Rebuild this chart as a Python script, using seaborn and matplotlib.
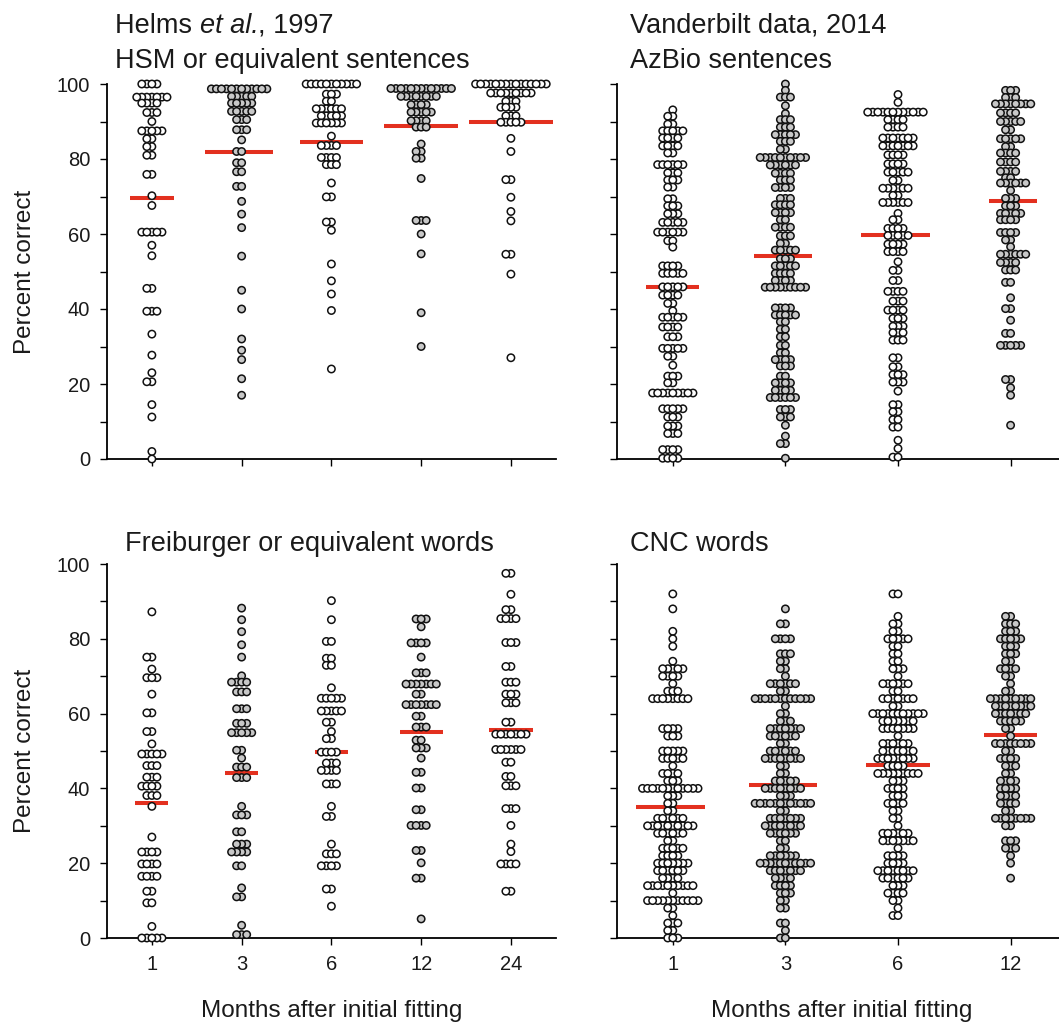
import warnings
import numpy as np
import pandas as pd
import matplotlib
matplotlib.use("Agg")
import matplotlib.pyplot as plt
import seaborn as sns

warnings.filterwarnings("ignore")

# ---------------------------------------------------------------- data
months_left = ["1", "3", "6", "12", "24"]
months_right = ["1", "3", "6", "12"]

# Helms et al., 1997 - HSM or equivalent sentences (score, number of listeners)
hsm_m1_pct = [100, 96.5, 94.9, 92.4, 90, 87.5, 85.4, 83.3, 81, 75.9, 70.2, 67.6, 60.5, 57, 54.2,
              45.5, 39.4, 33.3, 27.7, 23, 20.6, 14.5, 11.2, 2, 0]
hsm_m1_n = [4, 7, 4, 3, 1, 5, 2, 2, 2, 2, 1, 1, 5, 1, 1, 2, 3, 1, 1, 1, 2, 1, 1, 1, 1]
hsm_m3_pct = [98.7, 96.7, 94.9, 92.7, 90.5, 87.8, 85.1, 82, 79, 76.6, 72.7, 68.7, 65.3, 61.7, 54.1,
              45, 40, 32, 29, 26.5, 21.4, 17]
hsm_m3_n = [12, 5, 5, 5, 3, 3, 1, 2, 2, 2, 2, 1, 1, 1, 1, 1, 1, 1, 1, 1, 1, 1]
hsm_m6_pct = [100, 97.3, 95.4, 93.4, 91.5, 89.6, 86.1, 83.6, 80.4, 78.5, 73.6, 69.9, 63.2, 61, 52,
              47.5, 44, 39.6, 24]
hsm_m6_n = [11, 3, 2, 6, 5, 6, 1, 4, 4, 3, 1, 2, 2, 1, 1, 1, 1, 1, 1]
hsm_m12_pct = [98.8, 96.7, 94.5, 92.5, 90.2, 88.5, 84, 82, 80.2, 74.8, 63.6, 60, 54.7, 39, 30]
hsm_m12_n = [13, 8, 4, 5, 4, 3, 1, 2, 2, 1, 3, 1, 1, 1, 1]
hsm_m24_pct = [100, 97.6, 95.4, 93.8, 91.5, 89.8, 85.5, 82, 74.5, 69.8, 66, 63.5, 54.6, 49.3, 27]
hsm_m24_n = [15, 9, 3, 4, 3, 5, 1, 1, 2, 1, 1, 1, 2, 1, 1]
hsm_lines = [69.5, 82.0, 84.5, 88.7, 89.8]

# Vanderbilt data, 2014 - AzBio sentences
azbio_m1_pct = [93.1, 91.4, 89.3, 87.5, 85.6, 83.5, 81.6, 78.5, 76.3, 74.4, 72.5, 69.4, 67.5, 65.4,
                63.1, 60.5, 58.2, 56.5, 51.5, 49.5, 45.9, 43.7, 41.5, 39.5, 37.8, 35.2, 32.6, 29.5,
                27.4, 25, 22.1, 20.3, 17.6, 13.4, 11.2, 8.8, 6.8, 2.5, 0.2]
azbio_m1_n = [1, 2, 2, 5, 4, 4, 2, 6, 3, 3, 2, 2, 3, 3, 5, 6, 2, 1, 4, 5, 5, 4, 2, 1, 5, 4, 3, 5,
              2, 1, 3, 2, 9, 5, 3, 3, 3, 4, 4]
azbio_m3_pct = [100, 98.3, 96.5, 94.2, 92.1, 90.5, 88.5, 86.5, 84.7, 82.6, 80.4, 78.4, 76.2, 74.4,
                72.4, 69.5, 67.8, 65.7, 63.8, 61.8, 59.5, 57.5, 55.7, 53.4, 51.5, 49.5, 47.6, 45.8,
                40.3, 38.4, 36.6, 34.6, 32.6, 30.3, 28.3, 26.5, 24.8, 22.1, 20.3, 18.3, 16.4, 13.2,
                11.2, 9, 6.1, 4.1, 0.2]
azbio_m3_n = [1, 1, 3, 1, 1, 3, 3, 5, 3, 2, 10, 6, 4, 3, 4, 3, 4, 4, 2, 4, 3, 2, 5, 3, 5, 4, 4, 9,
              4, 5, 2, 2, 2, 2, 2, 4, 3, 2, 4, 4, 6, 3, 3, 1, 1, 2, 1]
azbio_m6_pct = [97.2, 95.1, 92.5, 90.5, 88.5, 85.6, 83.5, 81.1, 78.7, 76.5, 74.3, 72.2, 70.3, 68.4,
                65.5, 63.8, 61.5, 59.6, 57.3, 55.3, 52.6, 50.3, 47.6, 44.7, 42.1, 39.7, 37.5, 35.4,
                33.7, 31.7, 27, 24.6, 22.5, 20.5, 18.1, 14.5, 12.6, 10.5, 8.5, 5, 2.8, 0.5]
azbio_m6_n = [1, 1, 12, 4, 4, 7, 7, 4, 4, 5, 2, 6, 2, 6, 1, 2, 4, 5, 4, 4, 1, 2, 2, 4, 3, 4, 3, 3,
              3, 3, 2, 2, 3, 3, 1, 2, 2, 2, 2, 1, 1, 2]
azbio_m12_pct = [98.3, 96.4, 94.7, 92.3, 90, 87.8, 85.4, 83.3, 81.6, 79.2, 76.7, 75.0, 73.6, 71.6,
                 69.5, 67.5, 65.5, 63.8, 60.4, 58.4, 56.6, 54.6, 52.4, 50.4, 47.1, 43, 40.1, 37,
                 33.5, 30.3, 21.2, 19, 17, 9]
azbio_m12_n = [3, 3, 8, 4, 5, 2, 5, 2, 4, 4, 4, 2, 6, 1, 3, 3, 5, 4, 4, 2, 1, 6, 4, 3, 2, 1, 2, 1,
               2, 5, 2, 1, 1, 1]
azbio_lines = [45.8, 54.2, 59.7, 68.9]

# Freiburger or equivalent words
frei_m1_pct = [87.2, 75.1, 71.9, 69.6, 65.2, 60.2, 55.2, 51.9, 49.2, 46.1, 43, 40.6, 38.1, 35.2, 27,
               23, 19.8, 16.5, 12.5, 9.4, 3.1, 0]
frei_m1_n = [1, 2, 1, 3, 1, 2, 2, 1, 5, 3, 3, 4, 3, 1, 1, 4, 4, 4, 2, 2, 1, 5]
frei_m3_pct = [88.2, 85.1, 81.9, 78.4, 75.1, 70.1, 68.4, 65.8, 61.3, 57.4, 54.9, 50.2, 48.1, 45.7,
               42.9, 35.2, 32.9, 28.4, 25.1, 23, 19.3, 13.4, 11, 3.4, 0.9]
frei_m3_n = [1, 1, 1, 1, 1, 1, 4, 3, 3, 3, 5, 2, 1, 3, 3, 1, 3, 2, 3, 4, 2, 1, 2, 1, 3]
frei_m6_pct = [90.2, 85.1, 79.3, 74.8, 72.9, 66.9, 64.1, 60.7, 57.7, 55.2, 53.3, 49.7, 46.8, 44.8,
               41.2, 35.2, 32.5, 25.1, 22.5, 19.3, 13.1, 8.5]
frei_m6_n = [1, 1, 2, 2, 2, 1, 5, 5, 2, 1, 2, 4, 3, 4, 3, 1, 2, 1, 3, 4, 2, 1]
frei_m12_pct = [85.3, 83.2, 78.9, 75.1, 70.9, 67.9, 65.2, 62.4, 59.3, 56.4, 52.9, 50.8, 48.1, 44.3,
                40.1, 34.3, 30.1, 23.4, 20.1, 16, 5.1]
frei_m12_n = [3, 1, 4, 1, 3, 7, 2, 7, 2, 3, 2, 3, 1, 2, 2, 2, 4, 2, 1, 2, 1]
frei_m24_pct = [97.5, 91.9, 87.8, 85.4, 79, 72.6, 68.4, 65.2, 62.9, 57.7, 54.5, 50.4, 47, 43.2,
                40.7, 34.6, 30.1, 25.1, 23.1, 19.8, 12.5]
frei_m24_n = [2, 1, 2, 4, 3, 2, 3, 3, 3, 2, 7, 6, 2, 2, 3, 3, 1, 1, 1, 4, 2]
frei_lines = [36.2, 44.0, 49.6, 55.0, 55.5]

# CNC words
cnc_m1_pct = [92, 88, 82, 80, 78, 74, 72, 70, 68, 66, 64, 56, 54, 50, 48, 46, 44, 42, 40, 38, 36,
              34, 32, 30, 28, 26, 24, 22, 20, 18, 16, 14, 12, 10, 8, 6, 4, 2, 0]
cnc_m1_n = [1, 1, 1, 1, 1, 1, 5, 4, 1, 3, 8, 4, 3, 5, 5, 1, 4, 3, 12, 3, 2, 2, 6, 10, 6, 2, 5, 4,
            7, 6, 4, 10, 1, 11, 2, 1, 3, 2, 3]
cnc_m3_pct = [88, 84, 80, 76, 74, 72, 70, 68, 66, 64, 62, 60, 58, 56, 54, 52, 50, 48, 46, 44, 42,
              40, 38, 36, 34, 32, 30, 28, 26, 24, 22, 20, 18, 16, 14, 12, 10, 8, 4, 2, 0]
cnc_m3_n = [1, 2, 4, 3, 2, 2, 1, 6, 2, 12, 1, 2, 3, 7, 6, 2, 6, 8, 2, 2, 5, 8, 3, 12, 2, 7, 8, 6,
            2, 2, 6, 11, 7, 4, 4, 3, 2, 2, 2, 1, 2]
cnc_m6_pct = [92, 86, 84, 82, 80, 78, 76, 74, 72, 70, 68, 66, 64, 62, 60, 58, 56, 54, 52, 50, 48,
              46, 44, 42, 40, 38, 36, 34, 32, 30, 28, 26, 24, 22, 20, 18, 16, 14, 12, 10, 8, 6]
cnc_m6_n = [2, 1, 2, 2, 5, 2, 2, 2, 3, 1, 6, 2, 7, 2, 11, 7, 7, 1, 6, 7, 8, 4, 9, 3, 4, 3, 4, 2,
            2, 1, 6, 7, 1, 4, 4, 8, 6, 3, 4, 2, 1, 2]
cnc_m12_pct = [86, 84, 82, 80, 78, 76, 74, 72, 70, 68, 66, 64, 62, 60, 58, 56, 54, 52, 50, 48, 46,
               44, 42, 40, 38, 36, 34, 32, 30, 26, 24, 22, 20, 16]
cnc_m12_n = [2, 3, 3, 5, 3, 3, 2, 4, 2, 1, 2, 9, 8, 7, 5, 2, 1, 8, 2, 4, 3, 2, 4, 4, 4, 4, 2, 8,
             2, 3, 3, 1, 1, 1]
cnc_lines = [35.0, 41.0, 46.3, 54.2]

# ---------------------------------------------------------------- style
sns.set_style("ticks")
plt.rcParams["font.family"] = ["Liberation Sans", "DejaVu Sans"]

TEXT = "#1a1a1a"
WHITE = "#ffffff"
GREY = "#c8c8c8"
RED = "#e3301f"
SWARM_PT = 2.66       # size used for the swarm layout (gives overlapping rows)
EDGE_PT = 0.8
MARKER_PT = 5.3       # final drawn marker size
MARKER_EDGE = 1.1

W, H = 1059, 1024
fig = plt.figure(figsize=(W / 100, H / 100), dpi=100)


def px_axes(left, top, right, bottom):
    return fig.add_axes([left / W, 1 - bottom / H, (right - left) / W, (bottom - top) / H])


ax_tl = px_axes(107.0, 84, 555.8, 459)
ax_tr = px_axes(616.5, 84, 1066.9, 459)
ax_bl = px_axes(107.0, 564, 555.8, 938)
ax_br = px_axes(616.5, 564, 1066.9, 938)

panels = [
    (ax_tl, months_left,
     [(hsm_m1_pct, hsm_m1_n), (hsm_m3_pct, hsm_m3_n), (hsm_m6_pct, hsm_m6_n),
      (hsm_m12_pct, hsm_m12_n), (hsm_m24_pct, hsm_m24_n)], hsm_lines, True, False),
    (ax_tr, months_right,
     [(azbio_m1_pct, azbio_m1_n), (azbio_m3_pct, azbio_m3_n), (azbio_m6_pct, azbio_m6_n),
      (azbio_m12_pct, azbio_m12_n)], azbio_lines, False, False),
    (ax_bl, months_left,
     [(frei_m1_pct, frei_m1_n), (frei_m3_pct, frei_m3_n), (frei_m6_pct, frei_m6_n),
      (frei_m12_pct, frei_m12_n), (frei_m24_pct, frei_m24_n)], frei_lines, True, True),
    (ax_br, months_right,
     [(cnc_m1_pct, cnc_m1_n), (cnc_m3_pct, cnc_m3_n), (cnc_m6_pct, cnc_m6_n),
      (cnc_m12_pct, cnc_m12_n)], cnc_lines, False, True),
]

for ax, months, cols, lines, left_labels, bottom_labels in panels:
    month_col, pct_col = [], []
    for m, (pct, n) in zip(months, cols):
        vals = np.repeat(np.asarray(pct, float), np.asarray(n, int))
        pct_col.extend(vals.tolist())
        month_col.extend([m] * len(vals))
    df = pd.DataFrame({"month": month_col, "pct": pct_col})
    palette = {m: (WHITE if i % 2 == 0 else GREY) for i, m in enumerate(months)}
    sns.swarmplot(data=df, x="month", y="pct", hue="month", order=months, hue_order=months,
                  palette=palette, size=SWARM_PT, linewidth=EDGE_PT, edgecolor="black",
                  legend=False, ax=ax, warn_thresh=1.0)
    ax.set_xlim(-0.5, len(months) - 0.5)
    ax.set_ylim(0, 100)
    ax.set_yticks(np.arange(0, 101, 10))
    if left_labels:
        ax.set_yticklabels([str(v) if v % 20 == 0 else "" for v in range(0, 101, 10)])
        ax.set_ylabel("Percent correct", fontsize=17.5, color=TEXT, labelpad=15)
    else:
        ax.set_yticklabels([])
        ax.set_ylabel("")
    ax.set_xticks(range(len(months)))
    if bottom_labels:
        ax.set_xticklabels(months)
        ax.set_xlabel("Months after initial fitting", fontsize=17.5, color=TEXT, labelpad=19)
    else:
        ax.set_xticklabels([])
        ax.set_xlabel("")
    ax.tick_params(axis="both", direction="out", length=5, width=1.0, color="black",
                   labelsize=14.5, labelcolor=TEXT, pad=7)
    sns.despine(ax=ax)
    for s in ("left", "bottom"):
        ax.spines[s].set_linewidth(1.3)
        ax.spines[s].set_color("black")
    ax.patch.set_alpha(0)

# lay out the swarms with the final geometry, then freeze them and enlarge the markers
fig.canvas.draw()
for ax, months, cols, lines, _, _ in panels:
    inv = ax.transData.inverted()
    for coll in list(ax.collections):
        offs = np.array(coll.get_offsets(), dtype=float)
        if offs.size == 0:
            continue
        coll.__dict__.pop("draw", None)
        coll.set_offsets(offs)
        coll.set_sizes([MARKER_PT ** 2])
        coll.set_linewidth(MARKER_EDGE)
        coll.set_edgecolor("#111111")
        coll.set_clip_on(False)
        coll.set_zorder(3)
        idx = int(round(float(np.median(offs[:, 0]))))
        pix = ax.transData.transform(offs)
        y0 = lines[idx]
        x_lo = inv.transform((pix[:, 0].min() - 6.5, 0))[0]
        x_hi = inv.transform((pix[:, 0].max() + 6.5, 0))[0]
        ax.hlines(y0, x_lo, x_hi, color=RED, linewidth=2.9, zorder=2, clip_on=False)


# panel titles (pieces are chained so that "et al." can be italic)
def title(x_px, y_px, pieces):
    renderer = fig.canvas.get_renderer()
    x = x_px
    for s, style in pieces:
        t = fig.text(x / W, 1 - y_px / H, s, ha="left", va="baseline", fontsize=19.5,
                     color=TEXT, style=style)
        x += t.get_window_extent(renderer=renderer).width


title(115, 33, [("Helms ", "normal"), ("et al.", "italic"), (", 1997", "normal")])
title(115, 68, [("HSM or equivalent sentences", "normal")])
title(630, 33, [("Vanderbilt data, 2014", "normal")])
title(630, 68, [("AzBio sentences", "normal")])
title(125, 551, [("Freiburger or equivalent words", "normal")])
title(630, 551, [("CNC words", "normal")])

fig.savefig("out.png", dpi=100)
